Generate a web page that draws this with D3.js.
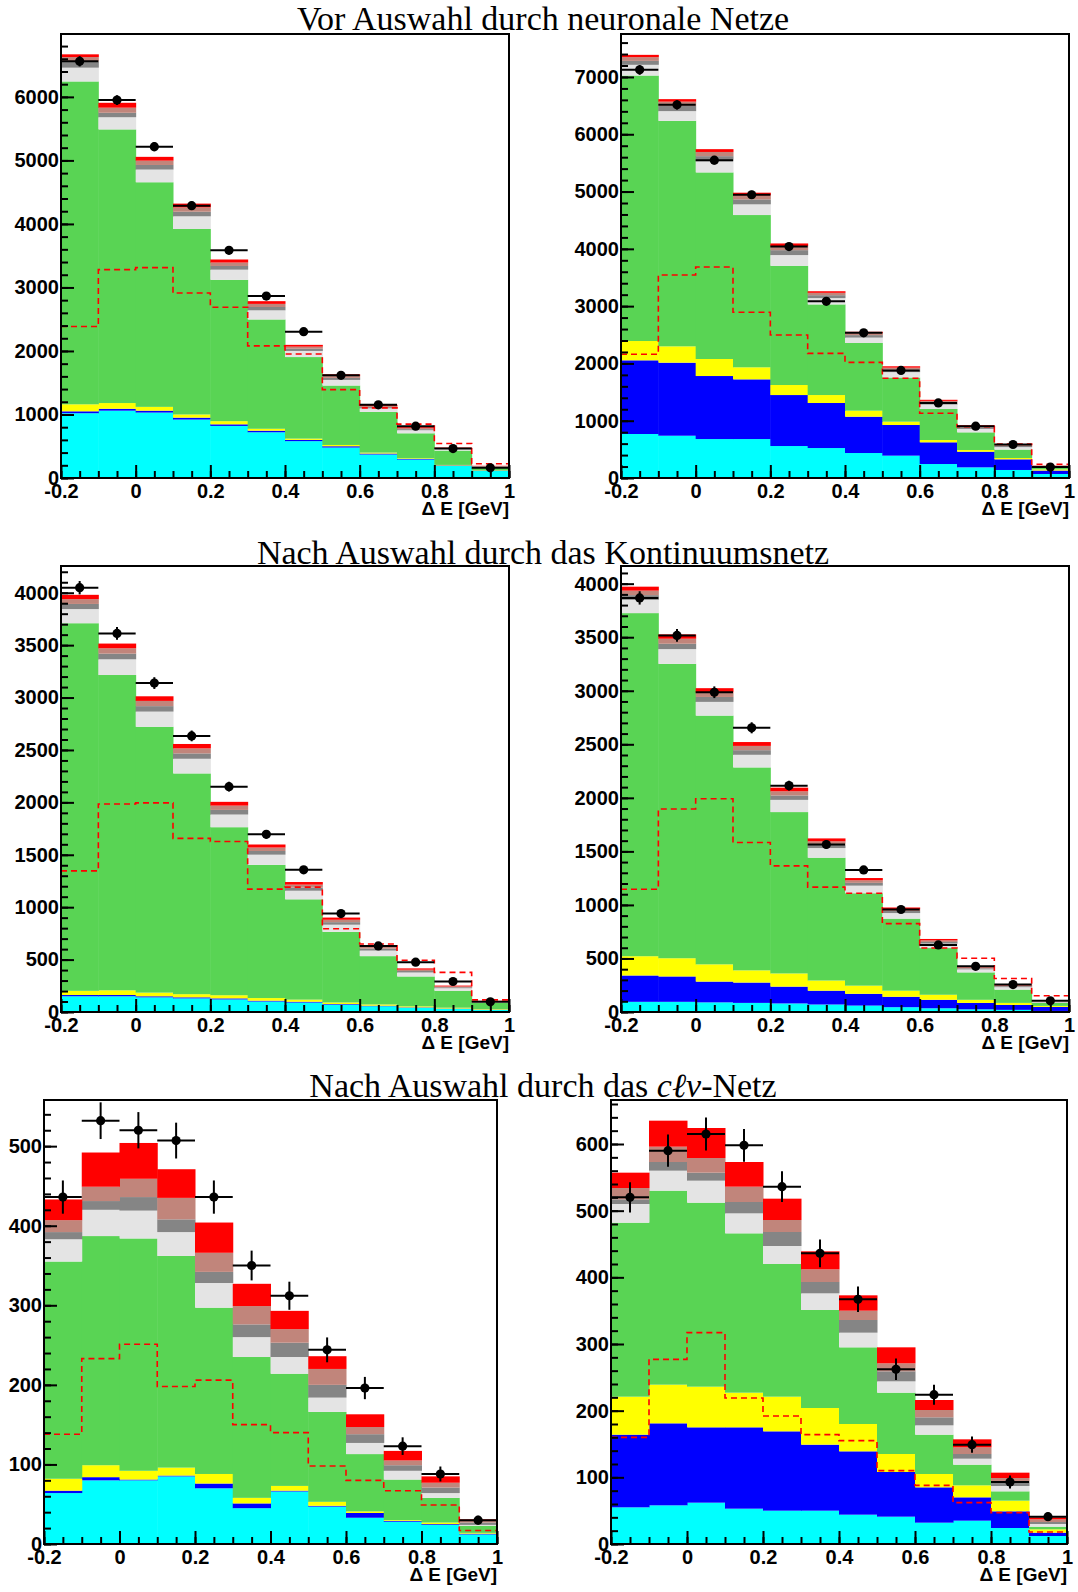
<!DOCTYPE html>
<html>
<head>
<meta charset="utf-8">
<script src="https://d3js.org/d3.v7.min.js"></script>
<style>
    body {margin: 0; background: #fff;}
    svg {display: block;}
    .tick text {font-family: "Liberation Sans", Arial, sans-serif; font-weight: bold; font-size: 20px; fill: #000;}
    .xtitle {font-family: "Liberation Sans", Arial, sans-serif; font-weight: bold; font-size: 19px;}
    .title {font-family: "Liberation Serif", "DejaVu Serif", serif; font-size: 34px;}
</style>
</head>
<body>
<svg width="1078" height="1592"></svg>
<script>
// bins of Delta E, 0.1 GeV wide
const binEdges = [-0.2, -0.1, 0, 0.1, 0.2, 0.3, 0.4, 0.5, 0.6, 0.7, 0.8, 0.9, 1.0];
const xTickLabels = [-0.2, 0, 0.2, 0.4, 0.6, 0.8, 1];
// stack order, bottom to top
const layerColors = ["#00ffff", "#0000ff", "#ffff00", "#59d454", "#e4e4e4", "#858585", "#c1857b", "#ff0000"];

// Vor Auswahl durch neuronale Netze
const vorL = [
    [1020, 1060, 1030, 920, 820, 720, 580, 480, 370, 290, 190, 110],
    [30, 30, 30, 30, 25, 25, 20, 20, 15, 10, 8, 5],
    [110, 90, 60, 50, 50, 30, 20, 20, 15, 10, 8, 5],
    [5083, 4308, 3536, 2920, 2225, 1721, 1284, 936, 640, 394, 226, 40],
    [217, 192, 200, 200, 160, 144, 96, 88, 56, 48, 24, 16],
    [100, 70, 72, 72, 58, 52, 35, 32, 20, 17, 9, 6],
    [67, 80, 68, 68, 54, 49, 33, 30, 19, 16, 8, 5],
    [43, 77, 60, 60, 48, 43, 28, 26, 17, 15, 7, 5]
];
const vorLData = [6560, 5950, 5216, 4288, 3584, 2864, 2304, 1616, 1152, 816, 464, 160];
const vorLDashed = [2384, 3280, 3312, 2912, 2688, 2080, 1952, 1392, 1104, 848, 544, 224];
const vorLYTicks = [0, 1000, 2000, 3000, 4000, 5000, 6000];

const vorR = [
    [768, 738, 680, 680, 558, 523, 436, 390, 244, 186, 140, 70],
    [1286, 1275, 1100, 1042, 890, 786, 634, 535, 379, 273, 186, 60],
    [337, 285, 297, 210, 175, 139, 105, 58, 40, 30, 23, 20],
    [4634, 3936, 3257, 2658, 2081, 1582, 1182, 771, 542, 308, 147, 40],
    [187, 170, 195, 187, 187, 110, 94, 94, 77, 60, 43, 14],
    [69, 90, 89, 86, 86, 51, 43, 43, 35, 27, 20, 7],
    [65, 75, 73, 70, 70, 41, 35, 35, 29, 22, 16, 5],
    [40, 44, 49, 47, 47, 28, 23, 24, 19, 15, 10, 4]
];
const vorRData = [7124, 6514, 5547, 4944, 4040, 3084, 2534, 1878, 1311, 904, 585, 190];
const vorRDashed = [2159, 3543, 3682, 2892, 2496, 2176, 2019, 1740, 1129, 895, 593, 239];
const vorRYTicks = [0, 1000, 2000, 3000, 4000, 5000, 6000, 7000];

// Nach Auswahl durch das Kontinuumsnetz
const kontL = [
    [150, 150, 140, 130, 120, 100, 90, 70, 55, 40, 30, 20],
    [12, 12, 10, 10, 10, 8, 8, 6, 5, 4, 3, 2],
    [40, 45, 35, 30, 30, 25, 20, 15, 12, 10, 8, 5],
    [3507, 3008, 2536, 2106, 1603, 1271, 957, 674, 461, 285, 162, 60],
    [135, 150, 145, 140, 121, 97, 82, 68, 53, 38, 24, 10],
    [49, 54, 52, 51, 44, 35, 30, 24, 19, 14, 9, 4],
    [46, 51, 50, 48, 41, 33, 28, 23, 18, 13, 8, 3],
    [41, 45, 44, 42, 36, 29, 25, 21, 16, 12, 8, 3]
];
const kontLData = [4048, 3612, 3138, 2634, 2150, 1695, 1356, 939, 630, 475, 291, 97];
const kontLDashed = [1346, 1985, 1995, 1656, 1627, 1172, 1191, 794, 649, 494, 378, 116];
const kontLYTicks = [0, 500, 1000, 1500, 2000, 2500, 3000, 3500, 4000];

const kontR = [
    [95, 95, 90, 85, 80, 70, 60, 45, 35, 25, 20, 10],
    [246, 237, 194, 190, 157, 129, 110, 97, 79, 60, 46, 37],
    [180, 170, 161, 114, 123, 95, 76, 57, 47, 29, 19, 10],
    [3204, 2749, 2323, 1895, 1507, 1147, 863, 673, 436, 256, 124, 28],
    [124, 138, 128, 118, 114, 90, 71, 52, 42, 28, 23, 5],
    [44, 50, 46, 43, 41, 32, 26, 19, 15, 10, 9, 2],
    [42, 47, 44, 40, 39, 31, 24, 18, 15, 10, 8, 2],
    [37, 40, 38, 36, 34, 27, 21, 15, 13, 9, 7, 1]
];
const kontRData = [3867, 3517, 2986, 2654, 2114, 1564, 1327, 957, 626, 427, 256, 104];
const kontRDashed = [1147, 1896, 1991, 1583, 1365, 1166, 1109, 825, 597, 502, 313, 152];
const kontRYTicks = [0, 500, 1000, 1500, 2000, 2500, 3000, 3500, 4000];

// Nach Auswahl durch das c-l-nu-Netz
const clnuL = [
    [64, 80, 80, 85, 70, 45, 66, 47, 33, 28, 24, 12],
    [3, 4, 1, 1, 6, 6, 1, 1, 6, 1, 1, 1],
    [15, 15, 11, 10, 12, 7, 6, 5, 2, 1, 2, 1],
    [273, 288, 292, 266, 209, 177, 141, 113, 72, 51, 31, 9],
    [28, 33, 35, 30, 31, 25, 21, 18, 14, 11, 6, 1],
    [9, 11, 17, 16, 14, 16, 18, 16, 11, 7, 7, 3],
    [15, 18, 23, 27, 24, 23, 17, 20, 9, 6, 6, 2],
    [26, 43, 45, 36, 38, 28, 23, 16, 16, 12, 8, 2]
];
const clnuLData = [436, 532, 520, 507, 436, 350, 312, 244, 196, 123, 88, 30];
const clnuLDashed = [138, 233, 251, 198, 206, 150, 140, 98, 80, 67, 49, 17];
const clnuLYTicks = [0, 100, 200, 300, 400, 500];

const clnuR = [
    [55, 58, 62, 53, 50, 50, 44, 41, 32, 35, 24, 12],
    [109, 123, 113, 122, 119, 99, 95, 67, 53, 35, 25, 5],
    [57, 58, 61, 52, 52, 55, 41, 27, 20, 18, 16, 5],
    [261, 291, 276, 239, 199, 147, 115, 92, 59, 31, 14, 4],
    [28, 30, 33, 30, 27, 25, 22, 17, 14, 9, 8, 4],
    [7, 13, 12, 17, 21, 17, 19, 15, 12, 7, 6, 3],
    [17, 23, 22, 23, 18, 19, 14, 12, 11, 10, 6, 4],
    [23, 39, 45, 37, 32, 27, 23, 24, 15, 12, 8, 3]
];
const clnuRData = [520, 590, 615, 598, 536, 436, 367, 262, 224, 149, 93, 41];
const clnuRDashed = [160, 277, 317, 219, 192, 164, 155, 110, 88, 62, 47, 18];
const clnuRYTicks = [0, 100, 200, 300, 400, 500, 600];

const titles = [
    {y: 30, parts: [["Vor Auswahl durch neuronale Netze", "normal"]]},
    {y: 564, parts: [["Nach Auswahl durch das Kontinuumsnetz", "normal"]]},
    {y: 1097, parts: [["Nach Auswahl durch das ", "normal"], ["c\u2113\u03bd", "italic"], ["-Netz", "normal"]]}
];

// frame boxes and y ranges
const panels = [
    {layers: vorL, data: vorLData, dashed: vorLDashed, yTicks: vorLYTicks, ymax: 6990, minor: 200, x0: 61, x1: 509, y0: 34, y1: 478},
    {layers: vorR, data: vorRData, dashed: vorRDashed, yTicks: vorRYTicks, ymax: 7750, minor: 200, x0: 621, x1: 1069, y0: 34, y1: 478},
    {layers: kontL, data: kontLData, dashed: kontLDashed, yTicks: kontLYTicks, ymax: 4255, minor: 100, x0: 61, x1: 509, y0: 566, y1: 1012},
    {layers: kontR, data: kontRData, dashed: kontRDashed, yTicks: kontRYTicks, ymax: 4165, minor: 100, x0: 621, x1: 1069, y0: 566, y1: 1012},
    {layers: clnuL, data: clnuLData, dashed: clnuLDashed, yTicks: clnuLYTicks, ymax: 558, minor: 20, x0: 44, x1: 497, y0: 1100, y1: 1544},
    {layers: clnuR, data: clnuRData, dashed: clnuRDashed, yTicks: clnuRYTicks, ymax: 666, minor: 20, x0: 611, x1: 1067, y0: 1100, y1: 1544}
];

let svg = d3.select("svg");

titles.forEach(t => {
    let text = svg.append("text")
        .attr("class", "title")
        .attr("x", 543)
        .attr("y", t.y)
        .attr("text-anchor", "middle");
    t.parts.forEach(p => {
        text.append("tspan").attr("font-style", p[1]).text(p[0]);
    });
});

panels.forEach((p, pi) => {
    let x = d3.scaleLinear().domain([-0.2, 1.0]).range([p.x0, p.x1]);
    let y = d3.scaleLinear().domain([0, p.ymax]).range([p.y1, p.y0]);
    let g = svg.append("g");

    let clipId = "clip" + pi;
    g.append("clipPath").attr("id", clipId)
        .append("rect")
        .attr("x", p.x0).attr("y", p.y0)
        .attr("width", p.x1 - p.x0).attr("height", p.y1 - p.y0);
    let plot = g.append("g").attr("clip-path", "url(#" + clipId + ")");

    // stacked histograms
    let rows = d3.range(12).map(i => {
        let r = {bin: i};
        p.layers.forEach((l, k) => { r[k] = l[i]; });
        return r;
    });
    let series = d3.stack().keys(d3.range(p.layers.length))(rows);
    series.forEach((s, k) => {
        plot.selectAll(null)
            .data(s)
            .enter().append("rect")
            .attr("x", d => x(binEdges[d.data.bin]))
            .attr("width", d => x(binEdges[d.data.bin + 1]) - x(binEdges[d.data.bin]) + 0.5)
            .attr("y", d => y(d[1]))
            .attr("height", d => y(d[0]) - y(d[1]))
            .attr("fill", layerColors[k]);
    });

    // dashed reference histogram
    let pts = p.dashed.map((v, i) => [binEdges[i], v]);
    pts.push([binEdges[12], p.dashed[11]]);
    let line = d3.line().x(d => x(d[0])).y(d => y(d[1])).curve(d3.curveStepAfter);
    plot.append("path")
        .attr("d", line(pts))
        .attr("fill", "none")
        .attr("stroke", "#ff0000")
        .attr("stroke-width", 1.6)
        .attr("stroke-dasharray", "6,4");

    // data points with errors
    let pts2 = plot.selectAll(".pt")
        .data(p.data)
        .enter().append("g").attr("class", "pt");
    pts2.append("line")
        .attr("x1", (d, i) => x(binEdges[i]))
        .attr("x2", (d, i) => x(binEdges[i + 1]))
        .attr("y1", d => y(d)).attr("y2", d => y(d))
        .attr("stroke", "#000").attr("stroke-width", 2);
    pts2.append("line")
        .attr("x1", (d, i) => x((binEdges[i] + binEdges[i + 1]) / 2))
        .attr("x2", (d, i) => x((binEdges[i] + binEdges[i + 1]) / 2))
        .attr("y1", d => y(d - Math.sqrt(d)))
        .attr("y2", d => y(d + Math.sqrt(d)))
        .attr("stroke", "#000").attr("stroke-width", 2);
    pts2.append("circle")
        .attr("cx", (d, i) => x((binEdges[i] + binEdges[i + 1]) / 2))
        .attr("cy", d => y(d))
        .attr("r", 4.6)
        .attr("fill", "#000");

    // frame
    g.append("rect")
        .attr("x", p.x0).attr("y", p.y0)
        .attr("width", p.x1 - p.x0).attr("height", p.y1 - p.y0)
        .attr("fill", "none").attr("stroke", "#000").attr("stroke-width", 2);

    // y axis, ticks pointing inwards
    let yMinor = d3.range(0, p.ymax, p.minor);
    g.append("g")
        .attr("transform", "translate(" + p.x0 + ",0)")
        .call(d3.axisLeft(y).tickValues(yMinor).tickSizeInner(-7).tickSizeOuter(0).tickFormat(""))
        .call(a => a.select(".domain").remove())
        .call(a => a.selectAll("line").attr("stroke-width", 2));
    g.append("g")
        .attr("transform", "translate(" + p.x0 + ",0)")
        .call(d3.axisLeft(y).tickValues(p.yTicks).tickSizeInner(-13).tickSizeOuter(0).tickPadding(2).tickFormat(d => String(d)))
        .call(a => a.select(".domain").remove())
        .call(a => a.selectAll("line").attr("stroke-width", 2))
        .call(a => a.selectAll("text").attr("font-family", null).attr("font-size", null));

    // x axis
    let xMinor = d3.range(-0.2, 1.0001, 0.05);
    g.append("g")
        .attr("transform", "translate(0," + p.y1 + ")")
        .call(d3.axisBottom(x).tickValues(xMinor).tickSizeInner(-7).tickSizeOuter(0).tickFormat(""))
        .call(a => a.select(".domain").remove())
        .call(a => a.selectAll("line").attr("stroke-width", 2));
    g.append("g")
        .attr("transform", "translate(0," + p.y1 + ")")
        .call(d3.axisBottom(x).tickValues(xTickLabels).tickSizeInner(-13).tickSizeOuter(0).tickFormat(d => String(Math.round(d * 10) / 10)))
        .call(a => a.select(".domain").remove())
        .call(a => a.selectAll("line").attr("stroke-width", 2))
        .call(a => a.selectAll("text").attr("font-family", null).attr("font-size", null).attr("dy", null).attr("y", 20));

    g.append("text")
        .attr("class", "xtitle")
        .attr("x", p.x1)
        .attr("y", p.y1 + 37)
        .attr("text-anchor", "end")
        .text("\u0394 E [GeV]");
});
</script>
</body>
</html>
